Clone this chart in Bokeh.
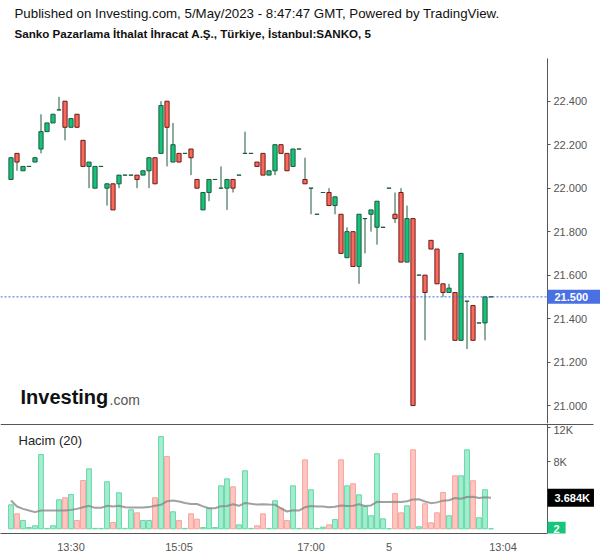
import pandas as pd
from bokeh.plotting import figure
from bokeh.models import (ColumnDataSource, Range1d, FixedTicker, NumeralTickFormatter,
                          Label, Span, LinearAxis)
from bokeh.layouts import column
from bokeh.embed import file_html
from bokeh.resources import INLINE

# ---------------- data ----------------
opens = [22.04, 22.16, 22.08, 22.10, 22.12, 22.18, 22.26, 22.30, 22.36, 22.40,
         22.28, 22.34, 22.22, 22.10, 22.00, 22.10, 22.00, 22.02, 22.02, 22.06,
         22.06, 22.06, 22.06, 22.08, 22.14, 22.16, 22.40, 22.12, 22.16, 22.16,
         22.18, 22.04, 21.90, 21.98, 22.04, 22.00, 22.00, 22.04, 22.06, 22.16,
         22.16, 22.12, 22.16, 22.06, 22.08, 22.20, 22.16, 22.10, 22.18, 22.04,
         22.00, 21.88, 21.98, 21.98, 21.92, 21.88, 21.68, 21.80, 21.64, 21.86,
         21.88, 21.82, 21.82, 22.00, 21.88, 21.98, 21.66, 21.86, 21.60, 21.60,
         21.76, 21.72, 21.56, 21.52, 21.52, 21.30, 21.48, 21.46, 21.38, 21.38,
         21.50]
highs = [22.14, 22.16, 22.10, 22.10, 22.14, 22.34, 22.30, 22.34, 22.42, 22.40,
         22.32, 22.34, 22.22, 22.12, 22.10, 22.10, 22.02, 22.02, 22.06, 22.06,
         22.06, 22.06, 22.08, 22.14, 22.14, 22.40, 22.40, 22.30, 22.16, 22.16,
         22.18, 22.04, 21.98, 22.04, 22.04, 22.10, 22.04, 22.04, 22.06, 22.26,
         22.16, 22.12, 22.16, 22.08, 22.20, 22.20, 22.16, 22.18, 22.18, 22.14,
         22.00, 21.88, 21.98, 22.00, 21.96, 21.88, 21.82, 21.80, 21.88, 21.86,
         21.90, 21.94, 21.82, 22.00, 21.98, 22.00, 21.92, 21.86, 21.60, 21.60,
         21.76, 21.72, 21.56, 21.56, 21.52, 21.70, 21.48, 21.46, 21.38, 21.50,
         21.50]
lows = [22.04, 22.08, 22.08, 22.10, 22.12, 22.16, 22.26, 22.30, 22.36, 22.22,
        22.28, 22.28, 22.10, 22.00, 22.00, 22.10, 21.92, 21.90, 22.00, 22.06,
        22.06, 22.00, 22.06, 22.00, 22.02, 22.16, 22.10, 22.12, 22.12, 22.16,
        22.06, 22.00, 21.90, 21.94, 22.04, 22.00, 21.90, 21.98, 22.06, 22.16,
        22.16, 22.10, 22.06, 22.06, 22.06, 22.16, 22.08, 22.10, 22.18, 22.02,
        21.88, 21.88, 21.98, 21.92, 21.88, 21.70, 21.68, 21.64, 21.56, 21.70,
        21.80, 21.74, 21.82, 22.00, 21.84, 21.66, 21.66, 21.00, 21.60, 21.30,
        21.72, 21.56, 21.50, 21.52, 21.30, 21.30, 21.26, 21.30, 21.38, 21.30,
        21.50]
closes = [22.14, 22.12, 22.10, 22.10, 22.14, 22.26, 22.30, 22.34, 22.36, 22.28,
          22.32, 22.28, 22.10, 22.12, 22.10, 22.10, 22.02, 21.90, 22.06, 22.06,
          22.06, 22.04, 22.08, 22.14, 22.02, 22.38, 22.28, 22.20, 22.12, 22.16,
          22.14, 22.00, 21.98, 22.04, 22.04, 22.00, 22.04, 22.00, 22.06, 22.16,
          22.16, 22.10, 22.06, 22.08, 22.20, 22.16, 22.08, 22.18, 22.18, 22.02,
          22.00, 21.88, 21.98, 21.92, 21.96, 21.70, 21.80, 21.64, 21.88, 21.86,
          21.90, 21.94, 21.82, 22.00, 21.86, 21.66, 21.86, 21.00, 21.60, 21.52,
          21.72, 21.56, 21.52, 21.54, 21.30, 21.70, 21.48, 21.30, 21.38, 21.50,
          21.50]
volumes = [2850, 1780, 990, 150, 360, 8830, 50, 360, 3450, 3690,
           4080, 990, 5740, 7130, 50, 50, 5590, 750, 4280, 50,
           2260, 1900, 990, 990, 3690, 10970, 8600, 2020, 990, 50,
           1780, 1140, 150, 2450, 150, 5110, 5940, 4990, 470, 6900,
           50, 360, 1780, 50, 3330, 2450, 990, 5110, 50, 8200,
           4640, 50, 200, 470, 1100, 8200, 5110, 5350, 4040, 2650,
           1550, 8920, 1190, 10, 4200, 1900, 2730, 9390, 240, 2970,
           710, 1900, 4320, 1550, 6300, 6300, 9390, 5710, 1310, 4640,
           2]
# volume MA(20) for the first bars (needs earlier data)
ma_start = [3370, 2650, 2370, 2170, 1980, 2170, 2170, 2170, 2170, 2170,
            2250, 2370, 2570, 2730, 2490, 2490, 2730, 2650, 2730]

time_ticks = [10, 28, 50, 63, 82]
time_labels = ["13:30", "15:05", "17:00", "5", "13:04"]
price_ticks = [21.0, 21.2, 21.4, 21.6, 21.8, 22.0, 22.2, 22.4]
vol_ticks = [8000, 12000]
vol_tick_labels = ["8K", "12K"]

title_1 = "Published on Investing.com, 5/May/2023 - 8:47:47 GMT, Powered by TradingView."
title_2 = "Sanko Pazarlama İthalat İhracat A.Ş., Türkiye, İstanbul:SANKO, 5"

# ---------------- derived ----------------
n = len(closes)
idx = list(range(n))
up = [c >= o for o, c in zip(opens, closes)]
ma = pd.Series(volumes, dtype=float).rolling(20).mean().tolist()
ma[:len(ma_start)] = ma_start

GREEN_FILL, GREEN_LINE = "#14c47c", "#1f5b3b"
RED_FILL, RED_LINE = "#f96a5b", "#6e1b1b"
WICK = "#1f5b3b"

src = ColumnDataSource(dict(
    x=idx, o=opens, h=highs, l=lows, c=closes,
    top=[max(o, c) for o, c in zip(opens, closes)],
    bot=[min(o, c) for o, c in zip(opens, closes)],
    fill=[GREEN_FILL if u else RED_FILL for u in up],
    line=[GREEN_LINE if u else RED_LINE for u in up],
    vol=volumes, ma=ma,
    vfill=["#a6ecd0" if u else "#fdc6c1" for u in up],
    vline=["#62d9a4" if u else "#f7a49c" for u in up],
))

FONT = "Liberation Sans"
AXIS_C = "#555555"
X_START, X_END = -1.75, 98.25      # whole 600 px width
AXIS_X = 89.4167                   # right edge of the chart area (547 px)
xr = Range1d(X_START, X_END)

PRICE_LO, PRICE_HI = 20.9175, 22.8632   # page y 423 .. 0
PRICE_AXIS_TOP = 22.596                 # page y 58


def style_axis(ax):
    ax.axis_line_color = AXIS_C
    ax.major_tick_line_color = AXIS_C
    ax.major_tick_out = 3
    ax.major_tick_in = 0
    ax.minor_tick_line_color = None
    ax.major_label_standoff = 3
    ax.major_label_text_font = FONT
    ax.major_label_text_font_size = "11px"
    ax.major_label_text_color = "#555555"


# ---------------- price panel ----------------
p1 = figure(width=600, height=423, x_range=xr, y_range=Range1d(PRICE_LO, PRICE_HI),
            x_axis_location=None, y_axis_location="right",
            output_backend="svg", toolbar_location=None,
            min_border_left=0, min_border_right=0, min_border_top=0, min_border_bottom=0)
p1.outline_line_color = None
p1.xgrid.visible = False
p1.ygrid.visible = False
ya = p1.yaxis[0]
style_axis(ya)
ya.ticker = FixedTicker(ticks=price_ticks)
ya.formatter = NumeralTickFormatter(format="0.000")
ya.fixed_location = AXIS_X
ya.bounds = (PRICE_LO, PRICE_AXIS_TOP)

p1.segment(x0="x", y0="l", x1="x", y1="h", source=src, line_color=WICK, line_width=1)
p1.vbar(x="x", width=0.7, top="top", bottom="bot", source=src,
        fill_color="fill", line_color="line", line_width=1)
p1.add_layout(Span(location=closes[-1], dimension="width", line_color="#3f66d9",
                   line_dash="2 2", line_width=1))

p1.add_layout(Label(x=14, y=403, x_units="screen", y_units="screen", text=title_1,
                    text_font=FONT, text_font_size="13.3px", text_color="#111111"))
p1.add_layout(Label(x=14, y=384, x_units="screen", y_units="screen", text=title_2,
                    text_font=FONT, text_font_size="11.6px", text_font_style="bold",
                    text_color="#111111"))
p1.add_layout(Label(x=20, y=16, x_units="screen", y_units="screen", text="Investing",
                    text_font=FONT, text_font_size="20px", text_font_style="bold",
                    text_color="#111111"))
p1.add_layout(Label(x=109, y=16, x_units="screen", y_units="screen", text=".com",
                    text_font=FONT, text_font_size="14px", text_color="#555555"))
p1.add_layout(Label(x=547, x_units="screen", y=closes[-1], y_units="data",
                    text=f"{closes[-1]:.3f}", text_font=FONT, text_font_size="11px",
                    text_font_style="bold", text_color="white", text_baseline="middle",
                    background_fill_color="#4a71e3",
                    padding=dict(left=7, right=14, top=3, bottom=3)))

# ---------------- volume panel ----------------
VOL_LO, VOL_HI = -559, 12520
p2 = figure(width=600, height=135, x_range=xr, y_range=Range1d(VOL_LO, VOL_HI),
            y_axis_location="right", output_backend="svg", toolbar_location=None,
            min_border_left=0, min_border_right=0, min_border_top=0, min_border_bottom=25)
p2.outline_line_color = None
p2.xgrid.visible = False
p2.ygrid.visible = False
va = p2.yaxis[0]
style_axis(va)
va.ticker = FixedTicker(ticks=vol_ticks)
va.major_label_overrides = dict(zip(vol_ticks, vol_tick_labels))
va.fixed_location = AXIS_X

xa = p2.xaxis[0]
style_axis(xa)
xa.ticker = FixedTicker(ticks=time_ticks)
xa.major_label_overrides = dict(zip(time_ticks, time_labels))
xa.major_tick_line_color = None
xa.major_label_standoff = 4
xa.bounds = (X_START, AXIS_X)

sep = LinearAxis(fixed_location=VOL_HI - 60, bounds=(X_START, 97.08),
                 ticker=FixedTicker(ticks=[]), axis_line_color=AXIS_C,
                 major_tick_line_color=None, minor_tick_line_color=None)
p2.add_layout(sep, "above")

p2.vbar(x="x", width=0.8, top="vol", bottom=0, source=src,
        fill_color="vfill", line_color="vline", line_width=1)
p2.line(x="x", y="ma", source=src, line_color="#8a8a8a", line_alpha=0.8, line_width=2)

p2.add_layout(Label(x=18, y=86, x_units="screen", y_units="screen", text="Hacim (20)",
                    text_font=FONT, text_font_size="13px", text_color="#222222"))
p2.add_layout(Label(x=547, x_units="screen", y=ma[-1], y_units="data",
                    text=f"{ma[-1] / 1000:.3f}K", text_font=FONT, text_font_size="11px",
                    text_font_style="bold", text_color="white", text_baseline="middle",
                    background_fill_color="#000000",
                    padding=dict(left=7, right=4, top=3, bottom=3)))
p2.add_layout(Label(x=547, x_units="screen", y=volumes[-1], y_units="data",
                    text=f"{volumes[-1]}", text_font=FONT, text_font_size="11px",
                    text_font_style="bold", text_color="white", text_baseline="middle",
                    background_fill_color="#17c67d",
                    padding=dict(left=6, right=6, top=3, bottom=3)))

layout = column(p1, p2, spacing=0)
open("out.html", "w").write(file_html(layout, INLINE))
